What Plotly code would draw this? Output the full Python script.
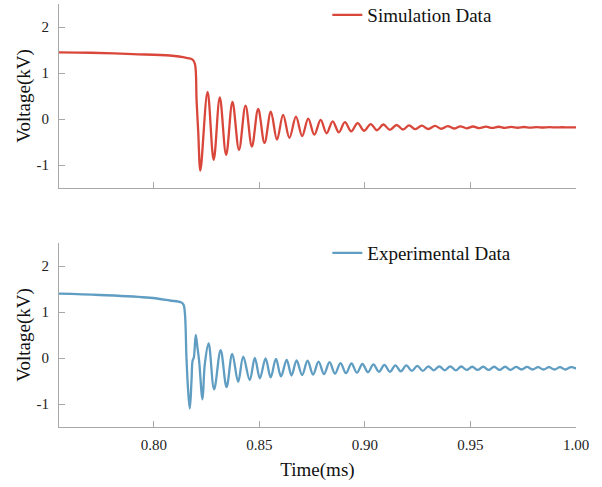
import plotly.graph_objects as go
from plotly.subplots import make_subplots

# ---------------- Simulation data (ms, kV) ----------------
sim_pre_t = [0.7550, 0.7700, 0.7901, 0.8075, 0.8154, 0.8183, 0.8194, 0.8202, 0.8210]
sim_pre_v = [1.45, 1.44, 1.41, 1.38, 1.33, 1.29, 1.20, 0.40, -0.30]
sim_trough_t = [0.8220, 0.8283, 0.8342, 0.8403, 0.8464, 0.8524, 0.8583, 0.8642, 0.8702,
                0.8760, 0.8818, 0.8876, 0.8935, 0.8996, 0.9057, 0.9118, 0.9180, 0.9239,
                0.9300, 0.9362, 0.9422, 0.9482, 0.9542, 0.9603, 0.9663, 0.9723, 0.9783,
                0.9843, 0.9904, 0.9964]
sim_trough_v = [-1.12, -0.89, -0.78, -0.67, -0.60, -0.52, -0.45, -0.41, -0.37,
                -0.34, -0.31, -0.29, -0.27, -0.255, -0.245, -0.235, -0.228, -0.222,
                -0.217, -0.212, -0.207, -0.202, -0.198, -0.195, -0.192, -0.19, -0.187,
                -0.185, -0.183, -0.182]
sim_peak_t = [0.8254, 0.8312, 0.8372, 0.8434, 0.8494, 0.8554, 0.8612, 0.8673, 0.8731,
              0.8790, 0.8847, 0.8905, 0.8965, 0.9027, 0.9087, 0.9150, 0.9209, 0.9269,
              0.9332, 0.9392, 0.9452, 0.9512, 0.9573, 0.9633, 0.9693, 0.9753, 0.9813,
              0.9874, 0.9934, 0.9994]
sim_peak_v = [0.59, 0.47, 0.37, 0.29, 0.22, 0.16, 0.09, 0.05, 0.01,
              -0.02, -0.05, -0.07, -0.09, -0.11, -0.12, -0.13, -0.14, -0.145,
              -0.15, -0.155, -0.16, -0.163, -0.166, -0.169, -0.172, -0.174, -0.176,
              -0.178, -0.179, -0.18]
sim_end_t = [1.0]
sim_end_v = [-0.181]

# ---------------- Experimental data (ms, kV) ----------------
exp_pre_t = [0.7550, 0.7743, 0.7980, 0.8075, 0.8128, 0.8140, 0.8147, 0.8154, 0.8162]
exp_pre_v = [1.40, 1.37, 1.31, 1.25, 1.21, 1.16, 0.95, 0.01, -0.71]
exp_ring_t = [0.8170, 0.8178, 0.8183, 0.8189, 0.8198, 0.8206, 0.8214, 0.8230, 0.8241,
              0.8259, 0.8285, 0.8316, 0.8344, 0.8371, 0.8399, 0.8423, 0.8454, 0.8478,
              0.8502, 0.8529, 0.8553, 0.8578, 0.8602, 0.8629, 0.8652]
exp_ring_v = [-1.10, -0.49, -0.06, 0.01, 0.50, 0.23, -0.06, -0.90, -0.13,
              0.32, -0.68, 0.17, -0.63, 0.09, -0.52, 0.03, -0.48, 0.00,
              -0.44, -0.01, -0.42, -0.02, -0.40, -0.04, -0.38]
exp_peak_t = [0.8676, 0.8728, 0.8780, 0.8832, 0.8884, 0.8936, 0.8988, 0.9040, 0.9092,
              0.9144, 0.9196, 0.9248, 0.9300, 0.9352, 0.9404, 0.9456, 0.9508, 0.9560,
              0.9612, 0.9664, 0.9716, 0.9768, 0.9820, 0.9872, 0.9924, 0.9976]
exp_peak_v = [-0.05, -0.06, -0.08, -0.09, -0.11, -0.12, -0.13, -0.14, -0.15,
              -0.16, -0.16, -0.17, -0.18, -0.18, -0.18, -0.185, -0.19, -0.19,
              -0.19, -0.19, -0.195, -0.195, -0.20, -0.20, -0.20, -0.20]
exp_trough_t = [0.8702, 0.8754, 0.8806, 0.8858, 0.8910, 0.8962, 0.9014, 0.9066, 0.9118,
                0.9170, 0.9222, 0.9274, 0.9326, 0.9378, 0.9430, 0.9482, 0.9534, 0.9586,
                0.9638, 0.9690, 0.9742, 0.9794, 0.9846, 0.9898, 0.9950]
exp_trough_v = [-0.37, -0.36, -0.35, -0.34, -0.33, -0.32, -0.31, -0.30, -0.30,
                -0.29, -0.28, -0.28, -0.27, -0.27, -0.27, -0.26, -0.26, -0.26,
                -0.26, -0.26, -0.25, -0.25, -0.25, -0.25, -0.25]
exp_end_t = [1.0]
exp_end_v = [-0.23]

x_tickvals = [0.80, 0.85, 0.90, 0.95, 1.00]
x_ticktext = ["0.80", "0.85", "0.90", "0.95", "1.00"]
y_tickvals = [-1, 0, 1, 2]
y_ticktext = ["-1", "0", "1", "2"]


def merge(*pairs):
    pts = []
    for ts, vs in pairs:
        pts.extend(zip(ts, vs))
    pts.sort(key=lambda p: p[0])
    return [p[0] for p in pts], [p[1] for p in pts]


sim_t, sim_v = merge((sim_pre_t, sim_pre_v), (sim_trough_t, sim_trough_v),
                     (sim_peak_t, sim_peak_v), (sim_end_t, sim_end_v))
exp_t, exp_v = merge((exp_pre_t, exp_pre_v), (exp_ring_t, exp_ring_v),
                     (exp_peak_t, exp_peak_v), (exp_trough_t, exp_trough_v),
                     (exp_end_t, exp_end_v))

FONT = "Liberation Serif"
RED = "#d9473b"
BLUE = "#5f9dc2"
AXIS = "#a8a8a8"

fig = make_subplots(rows=2, cols=1, shared_xaxes=False, vertical_spacing=0.13)

fig.add_trace(go.Scatter(x=sim_t, y=sim_v, mode="lines", name="Simulation Data",
                         line=dict(color=RED, width=2.3, shape="spline", smoothing=1.0),
                         legend="legend"), row=1, col=1)
fig.add_trace(go.Scatter(x=exp_t, y=exp_v, mode="lines", name="Experimental Data",
                         line=dict(color=BLUE, width=2.3, shape="spline", smoothing=1.0),
                         legend="legend2"), row=2, col=1)

H_PLOT = 487 - 4 - 60
top_bottom = (427 - 188) / H_PLOT
bot_top = (427 - 243) / H_PLOT

common_x = dict(range=[0.755, 1.0], tickvals=x_tickvals, ticktext=x_ticktext,
                ticks="inside", ticklen=6, tickcolor=AXIS, tickwidth=1,
                showline=True, linecolor=AXIS, linewidth=1.2, showgrid=False,
                zeroline=False, tickfont=dict(family=FONT, size=15, color="#222"),
                mirror=False, fixedrange=True)
common_y = dict(range=[-1.5, 2.5], tickvals=y_tickvals, ticktext=y_ticktext,
                ticks="inside", ticklen=6, tickcolor=AXIS, tickwidth=1,
                showline=True, linecolor=AXIS, linewidth=1.2, showgrid=False,
                zeroline=False, tickfont=dict(family=FONT, size=15, color="#222"),
                ticklabelstandoff=6,
                title=dict(text="Voltage(kV)", font=dict(family=FONT, size=19, color="#111"),
                           standoff=0))

fig.update_layout(
    width=602, height=487,
    margin=dict(l=59, r=26, t=4, b=60, autoexpand=False),
    plot_bgcolor="white", paper_bgcolor="white",
    xaxis=dict(common_x, domain=[0, 1], showticklabels=False),
    xaxis2=dict(common_x, domain=[0, 1], ticklabelstandoff=4,
                title=dict(text="Time(ms)", font=dict(family=FONT, size=19, color="#111"),
                           standoff=10)),
    yaxis=dict(common_y, domain=[top_bottom, 1]),
    yaxis2=dict(common_y, domain=[0, bot_top]),
    legend=dict(x=0.519, y=(427 - 15) / H_PLOT, xanchor="left", yanchor="middle",
                font=dict(family=FONT, size=19, color="#111"),
                bgcolor="rgba(0,0,0,0)"),
    legend2=dict(x=0.519, y=(427 - 253) / H_PLOT, xanchor="left", yanchor="middle",
                 font=dict(family=FONT, size=19, color="#111"),
                 bgcolor="rgba(0,0,0,0)"),
    showlegend=True,
)

fig.write_html("out.html")
